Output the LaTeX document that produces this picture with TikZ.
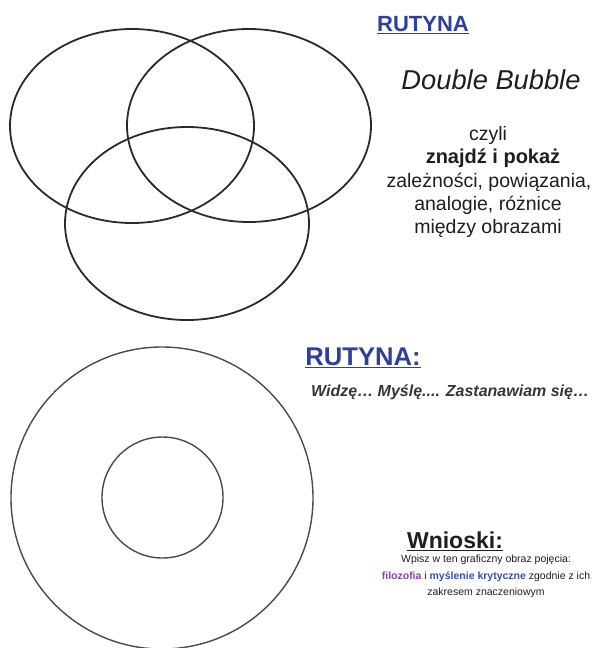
\documentclass[tikz,border=0pt]{standalone}
\usepackage{fontspec}
\setmainfont{Liberation Sans}
\definecolor{rblue}{HTML}{2E3F9C}
\definecolor{rpurple}{HTML}{8B3FB0}
\definecolor{mblue}{HTML}{3B4DB5}
\definecolor{txt}{HTML}{1E1E1E}
\definecolor{ln}{HTML}{2A2A2A}
\begin{document}
\begin{tikzpicture}[x=1pt,y=-1pt,
  bubble/.style={draw=ln,line width=1.8pt},
  ring/.style={draw=ln!85,line width=1.4pt},
  txtnode/.style={inner sep=0pt,text=txt,align=center},
  body/.style={txtnode,font=\fontsize{19.5}{23}\selectfont}]
\useasboundingbox (0,0) rectangle (595,648);
% Venn ellipses
\draw[bubble] (132,126) ellipse [x radius=122, y radius=97];
\draw[bubble] (249,125.5) ellipse [x radius=122, y radius=96.5];
\draw[bubble] (187,223.5) ellipse [x radius=122, y radius=96.5];
% concentric circles
\draw[ring] (162,498) circle [radius=151];
\draw[ring] (162.5,497.5) circle [radius=60.5];
% texts
\node[txtnode,text=rblue,font=\fontsize{22}{26}\selectfont\bfseries] (r1) at (423,25) {\underline{RUTYNA}};
\node[txtnode,font=\fontsize{27.3}{31}\selectfont\itshape] (db) at (491,80) {Double Bubble};
\node[body] (l1) at (488,135) {czyli};
\node[body,font=\fontsize{20}{23}\selectfont\bfseries] (l2) at (493,158) {znajdź i pokaż};
\node[body] (l3) at (489,182) {zależności, powiązania,};
\node[body] (l4) at (488,205) {analogie, różnice};
\node[body] (l5) at (488,228) {między obrazami};
\node[txtnode,text=rblue,font=\fontsize{25.6}{29}\selectfont\bfseries] (r2) at (363,358) {\underline{RUTYNA:}};
\node[txtnode,anchor=west,font=\fontsize{16}{19}\selectfont\bfseries\itshape,text=txt!90] (wm) at (311,392) {Widzę… Myślę.... Zastanawiam się…};
\node[txtnode,font=\fontsize{23}{27}\selectfont\bfseries] (wn) at (455,541) {\underline{Wnioski:}};
\node[txtnode,anchor=north,font=\fontsize{10.5}{16.5}\selectfont] (wp) at (486,555)
  {Wpisz w ten graficzny obraz pojęcia:\\ \textcolor{rpurple}{\bfseries filozofia} i \textcolor{mblue}{\bfseries myślenie krytyczne} zgodnie z ich\\ zakresem znaczeniowym};
\end{tikzpicture}
\end{document}
